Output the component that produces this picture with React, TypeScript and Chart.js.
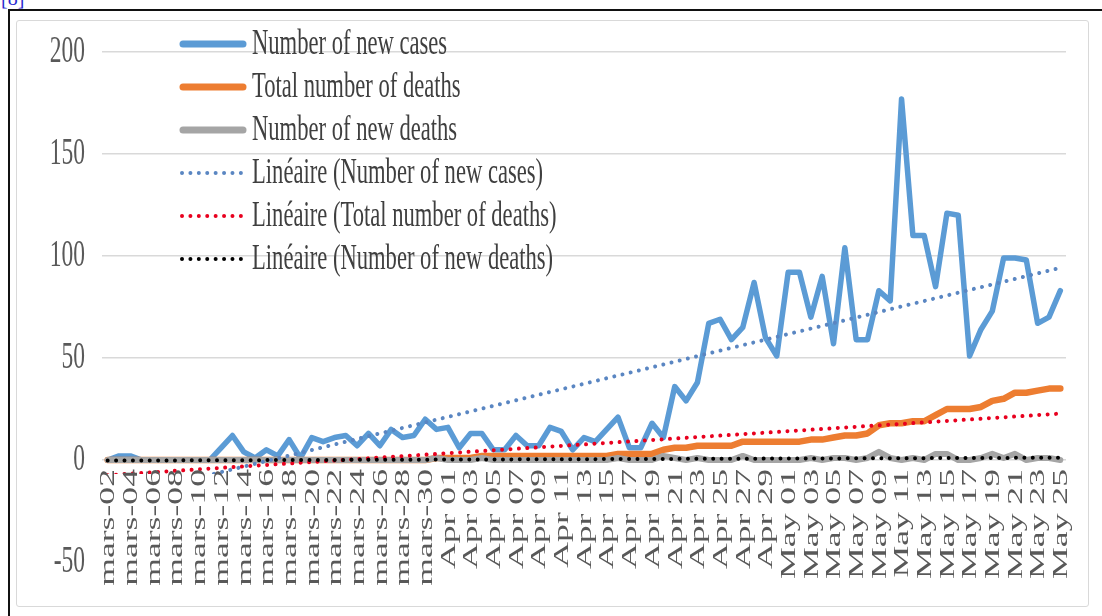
import React, { useEffect, useRef } from 'react';
import { Chart, registerables } from 'chart.js';

Chart.register(...registerables);

const dates = [
  'mars-02', 'mars-03', 'mars-04', 'mars-05', 'mars-06', 'mars-07', 'mars-08', 'mars-09', 'mars-10', 'mars-11',
  'mars-12', 'mars-13', 'mars-14', 'mars-15', 'mars-16', 'mars-17', 'mars-18', 'mars-19', 'mars-20', 'mars-21',
  'mars-22', 'mars-23', 'mars-24', 'mars-25', 'mars-26', 'mars-27', 'mars-28', 'mars-29', 'mars-30', 'mars-31',
  'Apr 01', 'Apr 02', 'Apr 03', 'Apr 04', 'Apr 05', 'Apr 06', 'Apr 07', 'Apr 08', 'Apr 09', 'Apr 10',
  'Apr 11', 'Apr 12', 'Apr 13', 'Apr 14', 'Apr 15', 'Apr 16', 'Apr 17', 'Apr 18', 'Apr 19', 'Apr 20',
  'Apr 21', 'Apr 22', 'Apr 23', 'Apr 24', 'Apr 25', 'Apr 26', 'Apr 27', 'Apr 28', 'Apr 29', 'Apr 30',
  'May 01', 'May 02', 'May 03', 'May 04', 'May 05', 'May 06', 'May 07', 'May 08', 'May 09', 'May 10',
  'May 11', 'May 12', 'May 13', 'May 14', 'May 15', 'May 16', 'May 17', 'May 18', 'May 19', 'May 20',
  'May 21', 'May 22', 'May 23', 'May 24', 'May 25',
];

const newCases = [
  0, 2, 2, 0, 0, 0, 0, 0, 0, 0,
  6, 12, 4, 1, 5, 2, 10, 1, 11, 9,
  11, 12, 7, 13, 7, 15, 11, 12, 20, 15,
  16, 6, 13, 13, 5, 5, 12, 7, 7, 16,
  14, 5, 11, 9, 15, 21, 6, 6, 18, 11,
  36, 29, 38, 67, 69, 59, 65, 87, 60, 51,
  92, 92, 70, 90, 57, 104, 59, 59, 83, 78,
  177, 110, 110, 85, 121, 120, 51, 64, 73, 99,
  99, 98, 67, 70, 83,
];

const totalDeaths = [
  0, 0, 0, 0, 0, 0, 0, 0, 0, 0,
  0, 0, 0, 0, 0, 0, 0, 0, 0, 0,
  0, 0, 0, 0, 0, 0, 0, 0, 0, 1,
  1, 1, 1, 2, 2, 2, 2, 2, 2, 2,
  2, 2, 2, 2, 2, 3, 3, 3, 3, 5,
  6, 6, 7, 7, 7, 7, 9, 9, 9, 9,
  9, 9, 10, 10, 11, 12, 12, 13, 17, 18,
  18, 19, 19, 22, 25, 25, 25, 26, 29, 30,
  33, 33, 34, 35, 35,
];

const newDeaths = [
  0, 0, 0, 0, 0, 0, 0, 0, 0, 0,
  0, 0, 0, 0, 0, 0, 0, 0, 0, 0,
  0, 0, 0, 0, 0, 0, 0, 0, 0, 1,
  0, 0, 0, 1, 0, 0, 0, 0, 0, 0,
  0, 0, 0, 0, 0, 1, 0, 0, 0, 2,
  1, 0, 1, 0, 0, 0, 2, 0, 0, 0,
  0, 0, 1, 0, 1, 1, 0, 1, 4, 1,
  0, 1, 0, 3, 3, 0, 0, 1, 3, 1,
  3, 0, 1, 1, 0,
];

const seriesNames = ['Number of new cases', 'Total number of deaths', 'Number of new deaths'];
const trendNames = [
  'Linéaire (Number of new cases)',
  'Linéaire (Total number of deaths)',
  'Linéaire (Number of new deaths)',
];
const yMin = -50;
const yMax = 200;
const yStep = 50;

// Least-squares linear trend (what Excel's "Linéaire" trendline draws)
function linearTrend(values: number[]): number[] {
  const n = values.length;
  let sx = 0, sy = 0, sxx = 0, sxy = 0;
  values.forEach((v, i) => {
    sx += i; sy += v; sxx += i * i; sxy += i * v;
  });
  const slope = (n * sxy - sx * sy) / (n * sxx - sx * sx);
  const icpt = (sy - slope * sx) / n;
  return values.map((_, i) => icpt + slope * i);
}

const FONT = '"Liberation Serif", "Times New Roman", serif';
const STRETCH = 1.62;

function stretchedText(ctx: CanvasRenderingContext2D, text: string, x: number, y: number, align: CanvasTextAlign, size: number, color: string) {
  ctx.save();
  ctx.translate(x, y);
  ctx.scale(1, STRETCH);
  ctx.font = `${size}px ${FONT}`;
  ctx.fillStyle = color;
  ctx.textAlign = align;
  ctx.textBaseline = 'middle';
  ctx.fillText(text, 0, 0);
  ctx.restore();
}

const textPlugin = {
  id: 'excelText',
  afterDatasetsDraw(chart: any) {
    // the label band below the axis hides the series, as in the original
    const ctx: CanvasRenderingContext2D = chart.ctx;
    const ys = chart.scales.y;
    const a = chart.chartArea;
    const top = ys.getPixelForValue(0) + 14;
    ctx.save();
    ctx.fillStyle = '#ffffff';
    ctx.fillRect(a.left - 4, top, a.right - a.left + 8, a.bottom - top + 4);
    ctx.restore();
  },
  afterDraw(chart: any) {
    const ctx: CanvasRenderingContext2D = chart.ctx;
    const xs = chart.scales.x;
    const ys = chart.scales.y;

    // y tick labels
    ys.ticks.forEach((t: any) => {
      stretchedText(ctx, String(t.value), 85, ys.getPixelForValue(t.value), 'right', 23.5, '#595959');
    });

    // x tick labels (every second category), rotated, hanging below the 0 line
    const yTop = ys.getPixelForValue(0) + 9;
    dates.forEach((d, i) => {
      if (i % 2 !== 0) return;
      const x = xs.getPixelForValue(i);
      ctx.save();
      ctx.translate(x + 1, yTop);
      ctx.rotate(-Math.PI / 2);
      ctx.scale(STRETCH, 1);
      ctx.font = `22px ${FONT}`;
      ctx.fillStyle = '#595959';
      ctx.textAlign = 'right';
      ctx.textBaseline = 'middle';
      ctx.fillText(d, 0, 0);
      ctx.restore();
    });

    // legend
    chart.data.datasets.forEach((ds: any, k: number) => {
      const cy = 44 + k * 43;
      ctx.save();
      ctx.strokeStyle = ds.borderColor;
      ctx.lineCap = 'round';
      if (ds.borderDash && ds.borderDash.length) {
        ctx.lineWidth = ds.borderWidth;
        ctx.setLineDash(ds.borderDash);
        ctx.beginPath();
        ctx.moveTo(182, cy);
        ctx.lineTo(245, cy);
        ctx.stroke();
      } else {
        ctx.lineWidth = 7;
        ctx.beginPath();
        ctx.moveTo(183, cy);
        ctx.lineTo(243, cy);
        ctx.stroke();
      }
      ctx.restore();
      stretchedText(ctx, ds.label, 252, cy, 'left', 22.6, '#3f3f3f');
    });
  },
};

export default function App() {
  const canvasRef = useRef<HTMLCanvasElement | null>(null);

  useEffect(() => {
    const canvas = canvasRef.current;
    if (!canvas) return;
    const dotted = { borderWidth: 4, borderDash: [0.01, 8.4], borderCapStyle: 'round' as const };
    const chart = new Chart(canvas, {
      type: 'line',
      data: {
        labels: dates,
        datasets: [
          { label: seriesNames[0], data: newCases, borderColor: '#5b9bd5', borderWidth: 5.5, order: 6, borderCapStyle: 'round', borderJoinStyle: 'round' },
          { label: seriesNames[1], data: totalDeaths, borderColor: '#ed7d31', borderWidth: 6.5, order: 5, borderCapStyle: 'round', borderJoinStyle: 'round' },
          { label: seriesNames[2], data: newDeaths, borderColor: '#a5a5a5', borderWidth: 6, order: 4, borderCapStyle: 'round', borderJoinStyle: 'round' },
          { label: trendNames[0], data: linearTrend(newCases), borderColor: '#5a86c2', order: 3, ...dotted },
          { label: trendNames[1], data: linearTrend(totalDeaths), borderColor: '#e8001e', order: 2, ...dotted },
          { label: trendNames[2], data: linearTrend(newDeaths), borderColor: '#000000', order: 1, ...dotted },
        ] as any,
      },
      options: {
        responsive: false,
        animation: false,
        layout: { padding: { left: 102, right: 36, top: 52, bottom: 54 } },
        elements: { point: { radius: 0, hoverRadius: 0 }, line: { tension: 0 } },
        plugins: { legend: { display: false }, tooltip: { enabled: false } },
        scales: {
          x: { display: false, offset: true },
          y: {
            min: yMin,
            max: yMax,
            afterFit: (s: any) => { s.width = 0; },
            ticks: { display: false, stepSize: yStep },
            border: { display: false },
            grid: {
              drawTicks: false,
              lineWidth: 1.5,
              color: (c: any) => (c.tick && c.tick.value === yMin ? 'rgba(0,0,0,0)' : '#d9d9d9'),
            },
          },
        },
      },
      plugins: [textPlugin],
    });
    return () => chart.destroy();
  }, []);

  return (
    <div style={{ position: 'fixed', left: 0, top: 0, width: 1102, height: 616, overflow: 'hidden', background: '#ffffff' }}>
      <span style={{ position: 'absolute', left: 1, top: -13, fontFamily: FONT, fontSize: 20, color: '#2a2ad0' }}>[8]</span>
      <div style={{ position: 'absolute', left: 8, top: 9, width: 1200, height: 700, border: '2px solid #111', boxSizing: 'border-box' }} />
      <div style={{ position: 'absolute', left: 16, top: 20, width: 1073, height: 587, border: '1.5px solid #d9d9d9', borderRadius: 3, boxSizing: 'border-box', background: '#fff' }} />
      <canvas ref={canvasRef} width={1102} height={616} style={{ position: 'absolute', left: 0, top: 0, width: 1102, height: 616 }} />
    </div>
  );
}
